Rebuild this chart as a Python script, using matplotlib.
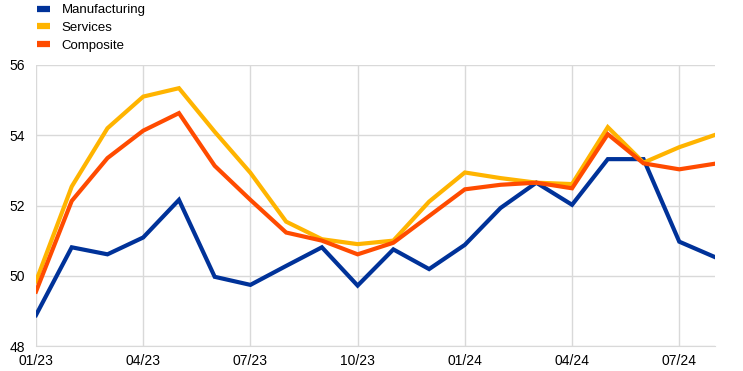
import matplotlib
matplotlib.use("Agg")
import matplotlib.pyplot as plt
from matplotlib.lines import Line2D
import numpy as np

months = ["01/23", "02/23", "03/23", "04/23", "05/23", "06/23", "07/23", "08/23", "09/23", "10/23",
          "11/23", "12/23", "01/24", "02/24", "03/24", "04/24", "05/24", "06/24", "07/24", "08/24"]
manufacturing = [48.88, 50.81, 50.61, 51.09, 52.16, 49.97, 49.74, 50.28, 50.81, 49.72,
                 50.75, 50.19, 50.88, 51.93, 52.65, 52.02, 53.32, 53.32, 50.97, 50.53]
services = [49.84, 52.54, 54.2, 55.1, 55.34, 54.1, 52.93, 51.54, 51.04, 50.9,
            51.0, 52.11, 52.94, 52.78, 52.65, 52.61, 54.23, 53.22, 53.66, 54.01]
composite = [49.55, 52.13, 53.35, 54.13, 54.63, 53.13, 52.16, 51.23, 51.0, 50.61,
             50.94, 51.7, 52.46, 52.59, 52.65, 52.49, 54.03, 53.2, 53.03, 53.19]
series_names = ["Manufacturing", "Services", "Composite"]
colors = ["#003299", "#FFB400", "#FF4B00"]
yticks = [48, 50, 52, 54, 56]

plt.rcParams['font.family'] = ['Liberation Sans', 'DejaVu Sans']

fig = plt.figure(figsize=(7.43, 3.71), dpi=100)
ax = fig.add_axes([36/743, 1-346/371, (715-36)/743, (346-65)/371])

x = np.arange(len(months))
for vals, c in zip([manufacturing, services, composite], colors):
    ax.plot(x, vals, color=c, lw=3, solid_joinstyle='miter', zorder=3)

ax.set_xlim(0, len(months)-1)
ax.set_ylim(48, 56)
tick_idx = list(range(0, len(months), 3))
ax.set_xticks(tick_idx)
ax.set_xticklabels([months[i] for i in tick_idx])
ax.set_yticks(yticks)
ax.set_yticklabels([str(v) for v in yticks])
ax.grid(True, color="#d9d9d9", lw=1)
ax.set_axisbelow(True)
for s in ["top", "right", "left"]:
    ax.spines[s].set_visible(False)
ax.spines["bottom"].set_color("#d9d9d9")
ax.tick_params(length=0, labelsize=10, colors="#000000", pad=6)
ax.tick_params(axis='y', pad=8)

handles = [Line2D([0], [0], color=c, lw=4.5, solid_capstyle='butt') for c in colors]
fig.legend(handles, series_names, loc="upper left", bbox_to_anchor=(37/743, 1 - 4/371),
           frameon=False, fontsize=9.5, handlelength=1.0, handletextpad=0.85,
           labelspacing=0.42, borderaxespad=0.0, borderpad=0.0)

fig.savefig("out.png", dpi=100)
